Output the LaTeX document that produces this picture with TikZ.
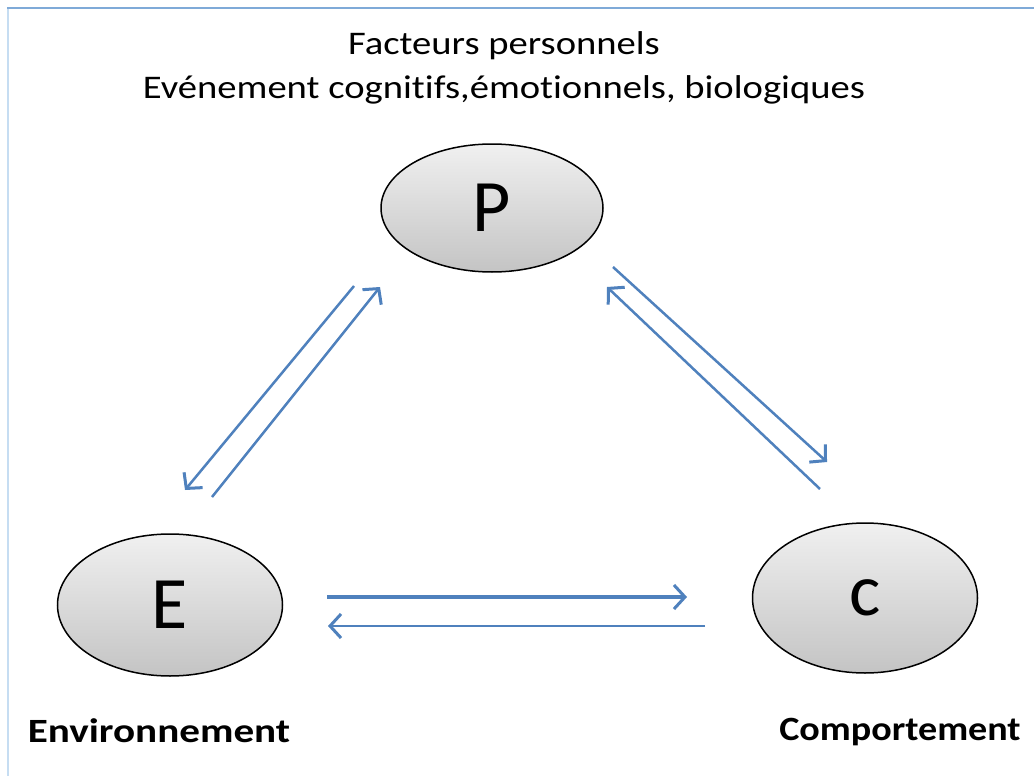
\documentclass[tikz,border=0pt]{standalone}
\usepackage{fontspec}
\setmainfont{Carlito}[Ligatures=NoCommon]
\usetikzlibrary{arrows.meta,shapes.geometric}
\definecolor{arrowblue}{HTML}{4F81BD}
\definecolor{frametop}{HTML}{7FAAD8}
\definecolor{frameleft}{HTML}{C6DDF2}
\definecolor{ellbot}{HTML}{C4C4C4}
\definecolor{elltop}{HTML}{F0F0F0}
\tikzset{
  factor/.style={ellipse, draw=black, line width=1.5pt, top color=elltop, bottom color=ellbot,
    inner sep=0pt, font=\fontsize{74}{80}\selectfont},
  link/.style={draw=arrowblue, line width=3.2pt, -{Straight Barb[length=11pt,width=24pt,line width=3pt]}},
  thinlink/.style={draw=arrowblue, line width=2.5pt, -{Straight Barb[length=11pt,width=24pt,line width=3pt]}},
  caption/.style={font=\fontsize{34}{40}\selectfont\bfseries, inner sep=0pt},
  title/.style={font=\fontsize{33}{44}\selectfont, align=center, inner sep=0pt}
}
\begin{document}
\begin{tikzpicture}[x=1pt,y=-1pt]
\useasboundingbox (0,0) rectangle (1034,776);
\fill[white] (0,0) rectangle (1034,776);
% frame
\draw[frameleft, line width=2.5pt] (8,8) -- (8,776);
\draw[frametop, line width=2.5pt] (7,8) -- (1034,8);
% title
\node[title] (t) at (504,68) {\scalebox{1.17}[1]{Facteurs personnels}\\\scalebox{1.17}[1]{Evénement cognitifs,émotionnels, biologiques}};
% ellipses
\node[factor, minimum width=222pt, minimum height=128pt] (P) at (492,208) {P};
\node[factor, minimum width=225pt, minimum height=142pt] (E) at (170,605) {E};
\node[factor, minimum width=225pt, minimum height=150pt] (C) at (865,598) {\raisebox{-8pt}{c}};
% captions
\node[caption] (envl) at (159,731) {\scalebox{1.21}[1]{Environnement}};
\node[caption] (coml) at (900,732) {\scalebox{1.12}[1]{Comportement}};
% arrow end points
\coordinate (a1) at (354,286);
\coordinate (a2) at (185,490);
\coordinate (b1) at (212,497);
\coordinate (b2) at (380,287);
\coordinate (c1) at (613,267);
\coordinate (c2) at (827,462);
\coordinate (d1) at (820,489);
\coordinate (d2) at (607,287);
\coordinate (e1) at (327,597);
\coordinate (e2) at (687,597);
\coordinate (f1) at (705,626);
\coordinate (f2) at (328,626);
\draw[thinlink] (a1) -- (a2);
\draw[thinlink] (b1) -- (b2);
\draw[thinlink] (c1) -- (c2);
\draw[thinlink] (d1) -- (d2);
\draw[link] (e1) -- (e2);
\draw[thinlink] (f1) -- (f2);
\end{tikzpicture}
\end{document}
